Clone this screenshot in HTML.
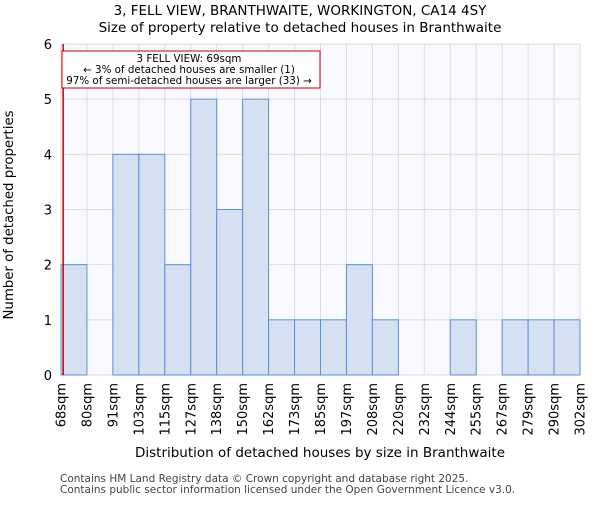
<!DOCTYPE html>
<html><head><meta charset="utf-8"><style>
body{margin:0;background:#fff;}
svg{font-family:"DejaVu Sans","Liberation Sans",sans-serif;}
</style></head><body>
<svg id="chart" width="600" height="500">
<text x="300" y="15" text-anchor="middle" font-size="13.5">3, FELL VIEW, BRANTHWAITE, WORKINGTON, CA14 4SY</text>
<text x="300" y="32" text-anchor="middle" font-size="13.5">Size of property relative to detached houses in Branthwaite</text>
<rect x="61" y="44" width="519" height="331" fill="#f7f9fe"/>
<g id="grid"></g>
<g id="bars"></g>
<g id="yticks"></g>
<g id="xticks"></g>
<line id="marker" y1="44" y2="375" stroke="#cc0000" stroke-width="1.5"/>
<rect x="62" y="51" width="258" height="37" fill="#fff" stroke="#cc0000" stroke-width="1"/>
<text x="189" y="62" text-anchor="middle" font-size="10.3">3 FELL VIEW: 69sqm</text>
<text x="189" y="73" text-anchor="middle" font-size="10.3">← 3% of detached houses are smaller (1)</text>
<text x="189" y="84" text-anchor="middle" font-size="10.3">97% of semi-detached houses are larger (33) →</text>
<text x="320" y="457" text-anchor="middle" font-size="13.5">Distribution of detached houses by size in Branthwaite</text>
<text transform="translate(13,215) rotate(-90)" text-anchor="middle" font-size="13.3">Number of detached properties</text>
<text x="60" y="482" font-size="10.5" fill="#444">Contains HM Land Registry data © Crown copyright and database right 2025.</text>
<text x="60" y="493" font-size="10.5" fill="#444">Contains public sector information licensed under the Open Government Licence v3.0.</text>
</svg>
<script>
const binLabels=["68sqm","80sqm","91sqm","103sqm","115sqm","127sqm","138sqm","150sqm","162sqm","173sqm","185sqm","197sqm","208sqm","220sqm","232sqm","244sqm","255sqm","267sqm","279sqm","290sqm","302sqm"];
const binEdges=[68,80,91,103,115,127,138,150,162,173,185,197,208,220,232,244,255,267,279,290,302];
const counts=[2,0,4,4,2,5,3,5,1,1,1,2,1,0,0,1,0,1,1,1];
const yTicks=[0,1,2,3,4,5,6];
const propertySize=69;
const NS="http://www.w3.org/2000/svg";
const X0=61,X1=580,Y0=375,Y1=44,YMAX=6;
const nb=counts.length;
function xIdx(i){return X0+(X1-X0)*i/nb;}
function xVal(v){for(let i=0;i<nb;i++){if(v<=binEdges[i+1]){return xIdx(i)+(v-binEdges[i])/(binEdges[i+1]-binEdges[i])*(X1-X0)/nb;}}return X1;}
function y(v){return Y0-(Y0-Y1)*v/YMAX;}
function mk(tag,attrs,parent){const e=document.createElementNS(NS,tag);for(const k in attrs)e.setAttribute(k,attrs[k]);parent.appendChild(e);return e;}
const grid=document.getElementById('grid'),bars=document.getElementById('bars'),yt=document.getElementById('yticks'),xt=document.getElementById('xticks');
yTicks.forEach(t=>{
 const l=mk('line',{x1:X0,x2:X1,y1:y(t),y2:y(t),stroke:'#dcdcdc'},grid);
 
 
 const tx=mk('text',{x:X0-9,y:y(t)+5,'text-anchor':'end','font-size':13},yt);
 tx.textContent=t;
 
 
});
for(let i=0;i<=nb;i++){
 const l=mk('line',{x1:xIdx(i),x2:xIdx(i),y1:Y1,y2:Y0,stroke:'#dcdcdc'},grid);
 
 
}
counts.forEach((c,i)=>{
 if(c<=0)return;
 const r=mk('rect',{x:xIdx(i),y:y(c),width:(X1-X0)/nb,height:Y0-y(c),fill:'#d6e0f3',stroke:'#5b8fd6','stroke-width':1},bars);
 
 
});
binLabels.forEach((s,i)=>{
 const px=xIdx(i)+4.5;
 const tx=mk('text',{transform:`translate(${px},${Y0+8}) rotate(-90)`,'text-anchor':'end','font-size':13},xt);
 tx.textContent=s;
 
 
});
const m=document.getElementById('marker');const mx=xVal(propertySize);m.setAttribute('x1',mx);m.setAttribute('x2',mx);
</script>
</body></html>
